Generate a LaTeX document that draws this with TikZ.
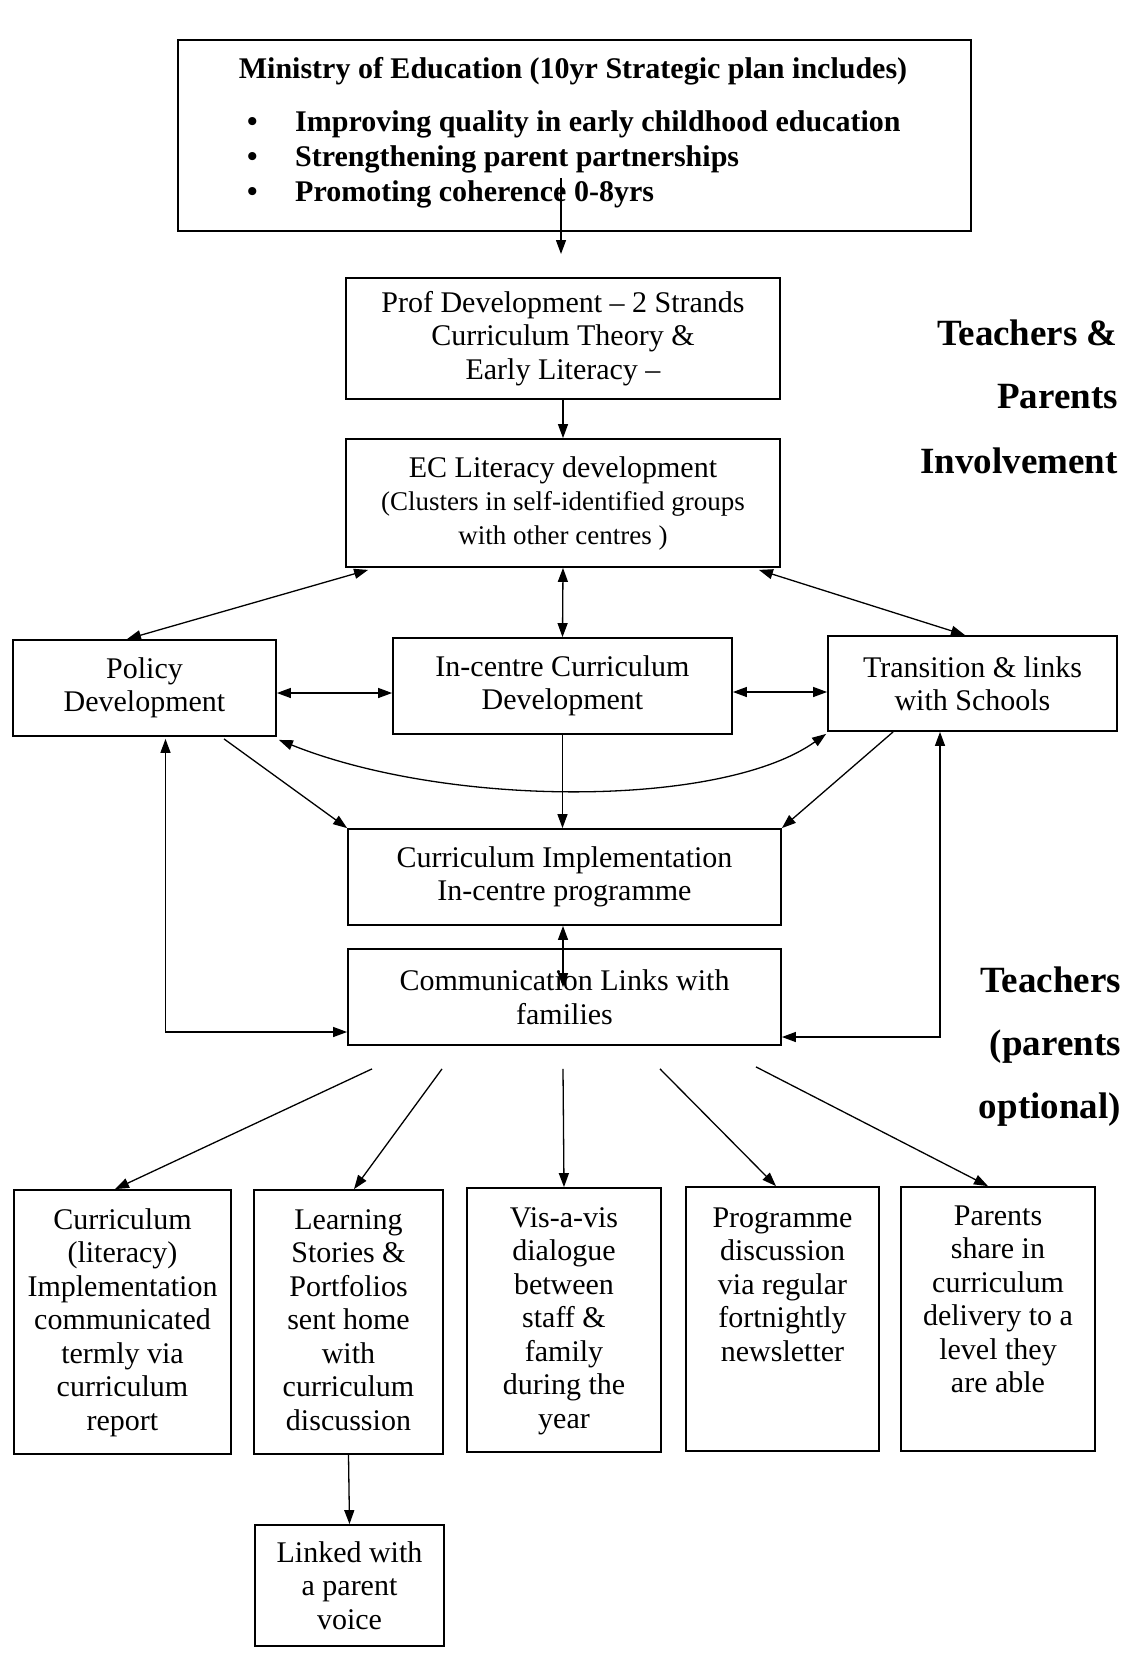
\documentclass[tikz,border=0pt]{standalone}
\usepackage{fontspec}
\setmainfont{Liberation Serif}
\usetikzlibrary{arrows.meta,calc}
\tikzset{
  box/.style={draw, line width=1.8pt, inner sep=0pt, align=center},
  conn/.style={line width=1.3pt},
  btext/.style={anchor=north, inner sep=0pt, align=center},
  mtext/.style={inner sep=0pt, font=\fontsize{30}{35.5}\selectfont\bfseries},
  lab/.style={inner sep=0pt, anchor=base east, font=\fontsize{37}{40}\selectfont\bfseries},
}
\newcommand{\fstrut}{\rule{0pt}{25pt}}
\begin{document}
\begin{tikzpicture}[x=1pt,y=-1pt,font=\fontsize{30}{33.5}\selectfont,
  >={Triangle[length=14pt,width=10pt]}]
\useasboundingbox (0,0) rectangle (1131,1662);
% Ministry box
\node[box, minimum width=793pt, minimum height=191pt] (min) at (574.5,135.5) {};
\node[mtext, anchor=base] (mt) at (573,78) {Ministry of Education (10yr Strategic plan includes)};
\node[mtext, anchor=base west] (m1) at (247,131) {\makebox[48pt][l]{\textbullet}Improving quality in early childhood education};
\node[mtext, anchor=base west] (m2) at (247,166) {\makebox[48pt][l]{\textbullet}Strengthening parent partnerships};
\node[mtext, anchor=base west] (m3) at (247,201) {\makebox[48pt][l]{\textbullet}Promoting coherence 0-8yrs};
\coordinate (mstart) at (561,178);
\coordinate (mend) at (561,254);
% middle boxes
\node[box, minimum width=434pt, minimum height=121pt] (prof) at (563,338.5) {Prof Development – 2 Strands\\Curriculum Theory \&\\Early Literacy –};
\node[box, minimum width=434pt, minimum height=128pt] (ec) at (563,503) {EC Literacy development\\{\fontsize{27}{33.5}\selectfont (Clusters in self-identified groups}\\{\fontsize{27}{33.5}\selectfont with other centres )}};
\node[box, minimum width=263pt, minimum height=96pt] (pol) at (144.5,688) {Policy\\Development};
\node[box, minimum width=339pt, minimum height=96pt] (inc) at (562.5,686) {In-centre Curriculum\\Development};
\node[box, minimum width=289pt, minimum height=95pt] (tra) at (972.5,683.5) {Transition \& links\\with Schools};
\node[box, minimum width=433pt, minimum height=96pt] (cim) at (564.5,877) {Curriculum Implementation\\In-centre programme};
\node[box, minimum width=433pt, minimum height=96pt] (com) at (564.5,997) {Communication Links with\\families};
% bottom boxes
\node[box, minimum width=217pt, minimum height=264pt] (b1) at (122.5,1322) {};
\node[box, minimum width=189pt, minimum height=264pt] (b2) at (348.5,1322) {};
\node[box, minimum width=194pt, minimum height=264pt] (b3) at (564,1320) {};
\node[box, minimum width=193pt, minimum height=264pt] (b4) at (782.5,1319) {};
\node[box, minimum width=194pt, minimum height=264pt] (b5) at (998,1319) {};
\node[btext] (t1) at (122.5,1204) {\fstrut Curriculum\\(literacy)\\Implementation\\communicated\\termly via\\curriculum\\report};
\node[btext] (t2) at (348.5,1204) {\fstrut Learning\\Stories \&\\Portfolios\\sent home\\with\\curriculum\\discussion};
\node[btext] (t3) at (564,1202) {\fstrut Vis-a-vis\\dialogue\\between\\staff \&\\family\\during the\\year};
\node[btext] (t4) at (782.5,1202) {\fstrut Programme\\discussion\\via regular\\fortnightly\\newsletter};
\node[btext] (t5) at (998,1200) {\fstrut Parents\\share in\\curriculum\\delivery to a\\level they\\are able};
\node[box, minimum width=189pt, minimum height=121pt] (lnk) at (349.5,1585.5) {Linked with\\a parent\\voice};
% side labels
\node[lab] (r1) at (1118,345) {Teachers \&};
\node[lab] (r2) at (1118,408) {Parents};
\node[lab] (r3) at (1118,473) {Involvement};
\node[lab] (r4) at (1121,992) {Teachers};
\node[lab] (r5) at (1121,1055) {(parents};
\node[lab] (r6) at (1121,1118) {optional)};
% connectors
\draw[conn,->] (mstart) -- (mend);
\draw[conn,->] (prof.south) -- (ec.north);
\draw[conn,<->] ($(ec.south west)+(23,2)$) -- ($(pol.north)+(-17.5,0)$);
\draw[conn,<->] (ec.south) -- (inc.north);
\draw[conn,<->] ($(ec.south east)+(-22,2)$) -- ($(tra.north)+(-7.5,0)$);
\draw[conn,<->] ($(pol.east)+(0,5)$) -- ($(inc.west)+(0,7)$);
\draw[conn,<->] ($(inc.east)+(0,6)$) -- ($(tra.west)+(0,8.5)$);
\draw[conn,<->] ($(pol.south east)+(2,3)$) .. controls (449,808) and (722,808) .. ($(tra.south west)+(-1,2)$);
\draw[conn,->] ($(pol.south)+(79.5,2)$) -- (cim.north west);
\draw[conn,->] ($(tra.south west)+(66,0)$) -- (cim.north east);
\draw[conn,->] (inc.south) -- (inc.south |- cim.north);
\draw[conn,<->] ($(cim.south)+(-1.5,0)$) -- ($(com.north)+(-1.5,39)$);
\draw[conn,<->] ($(pol.south)+(21,2)$) |- ($(com.west)+(0,35)$);
\draw[conn,<->] ($(tra.south)+(-32.5,0)$) |- ($(com.east)+(0,40)$);
\coordinate (f1) at ($(com.south)+(-192.5,23)$);
\coordinate (f2) at ($(com.south)+(-122.5,23)$);
\coordinate (f3) at ($(com.south)+(-1.5,23)$);
\coordinate (f4) at ($(com.south)+(95.5,23)$);
\coordinate (f5) at ($(com.south)+(191.5,21)$);
\draw[conn,->] (f1) -- ($(b1.north)+(-7.5,0)$);
\draw[conn,->] (f2) -- ($(b2.north)+(5.5,0)$);
\draw[conn,->] (f3) -- (b3.north);
\draw[conn,->] (f4) -- ($(b4.north)+(-6.5,0)$);
\draw[conn,->] (f5) -- ($(b5.north)+(-10,0)$);
\draw[conn,->] (b2.south) -- (lnk.north);
\end{tikzpicture}
\end{document}
